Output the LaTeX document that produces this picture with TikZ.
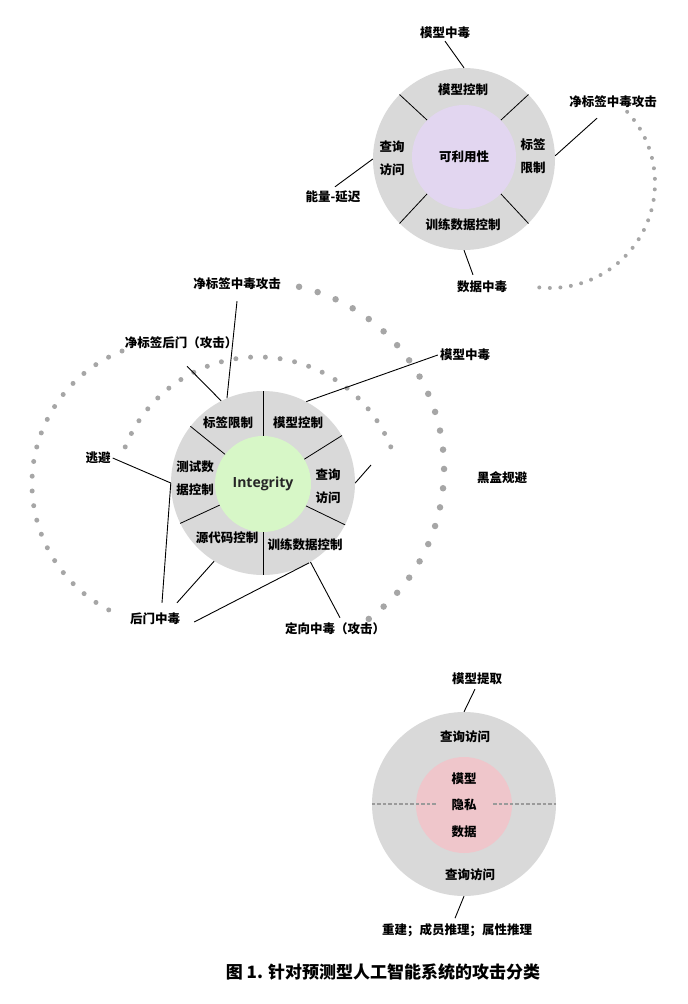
\documentclass[tikz,border=0pt]{standalone}
\usepackage{fontspec}
\setmainfont{Noto Sans CJK SC}
\newfontfamily\latinfont{Open Sans}
\definecolor{ringgray}{HTML}{D9D9D9}
\definecolor{dotgray}{HTML}{A6A6A6}
\definecolor{dashgray}{HTML}{9A9A9A}
\definecolor{availcol}{HTML}{E2D6F0}
\definecolor{integcol}{HTML}{D7F7C7}
\definecolor{privcol}{HTML}{EFC6CB}
\tikzset{
  lbl/.style={font=\bfseries\fontsize{12.5}{23}\selectfont, inner sep=2pt, align=center},
  ring/.style={circle, fill=ringgray, minimum size=#1, inner sep=0pt},
  core/.style={circle, minimum size=#1, inner sep=0pt},
  conn/.style={line width=0.9pt},
  divider/.style={line width=0.8pt},
  dotarc/.style={dotgray, line width=#1, line cap=round},
  dashline/.style={dashgray, line width=2.4pt, dash pattern=on 3.5pt off 2pt}
}
\begin{document}
\begin{tikzpicture}[x=1pt,y=-1pt]
    \useasboundingbox (0,0) rectangle (688,1004);
    % availability
    \node[ring=182pt] (avail) at (464,159) {};
    \node[core=104pt, fill=availcol, lbl] (availcore) at (464,157) {可利用性};
    \foreach \a in {45,135,225,315} {
        \draw[divider] (availcore.\a) -- (avail.\a);
    }
    \node[lbl] (amc) at (463,90) {模型控制};
    \node[lbl] (aqa) at (392,158) {查询\\访问};
    \node[lbl] (alr) at (533,156) {标签\\限制};
    \node[lbl] (atd) at (463,225) {训练数据控制};
    \node[lbl] (amp) at (445,33) {模型中毒};
    \node[lbl] (acl) at (613,102) {净标签中毒攻击};
    \node[lbl] (ael) at (333,197) {能量-延迟};
    \node[lbl] (adp) at (482,287) {数据中毒};
    \draw[conn] (amp.south) -- (avail.90);
    \draw[conn] ([xshift=-16pt,yshift=-8pt]acl.south) -- (avail.2);
    \draw[conn] ([xshift=2pt,yshift=2pt]ael.north) -- (avail.west);
    \draw[conn] ([xshift=-9pt,yshift=4pt]adp.north) -- (avail.south);
    \draw[dotarc=4pt, dash pattern=on 0pt off 10.58pt] (550,183) ++(-42.7:105) arc[start angle=-42.7, end angle=95.9, radius=105];
    % integrity
    \draw[dotarc=6.5pt, dash pattern=on 0pt off 19.33pt] (257,469) ++(-77:187) arc[start angle=-77, end angle=53.3, radius=187];
    \draw[dotarc=5pt, dash pattern=on 0pt off 14.8pt] (174.5,483.5) ++(-111.6:142.5) arc[start angle=-111.6, end angle=-248.4, radius=142.5];
    \draw[dotarc=5pt, dash pattern=on 0pt off 14.8pt] (258,500) ++(-158.2:143) arc[start angle=-158.2, end angle=-21.8, radius=143];
    \node[ring=184pt] (integ) at (263,483) {};
    \node[core=96pt, fill=integcol, font=\latinfont\bfseries\fontsize{14}{16}\selectfont, text=black!85] (integcore) at (263,484) {Integrity};
    \foreach \a in {90,31,333,270,206,142} {
        \draw[divider] (integcore.\a) -- (integ.\a);
    }
    \node[lbl] (ilr) at (228,423) {标签限制};
    \node[lbl] (imc) at (298,423) {模型控制};
    \node[lbl] (itd) at (195,478) {测试数\\据控制};
    \node[lbl] (iqa) at (328,486) {查询\\访问};
    \node[lbl] (isc) at (227,538) {源代码控制};
    \node[lbl] (itr) at (305,545) {训练数据控制};
    \node[lbl] (icl) at (237,284) {净标签中毒攻击};
    \node[lbl] (icb) at (181,343) {净标签后门（攻击）};
    \node[lbl] (imp) at (465,355) {模型中毒};
    \node[lbl] (iev) at (98,458) {逃避};
    \node[lbl] (ibb) at (502,478) {黑盒规避};
    \node[lbl] (ibd) at (155,619) {后门中毒};
    \node[lbl] (itp) at (335,629) {定向中毒（攻击）};
    \coordinate (ibbend) at (371,465);
    \draw[conn] ([yshift=-9pt]icl.south) -- (integ.113);
    \draw[conn] ([xshift=6pt,yshift=-15pt]icb.south) -- (integ.117);
    \draw[conn] (imp.west) -- (integ.62);
    \draw[conn] (iev.east) -- (integ.west);
    \draw[conn] ([xshift=7pt,yshift=8pt]ibd.north) -- (integ.west);
    \draw[conn] ([xshift=22pt,yshift=8pt]ibd.north) -- (integ.238);
    \draw[conn] ([xshift=12pt,yshift=-3pt]ibd.east) -- (integ.300);
    \draw[conn] ([xshift=5pt,yshift=3pt]itp.north) -- (integ.301);
    \draw[conn] (integ.east) -- (ibbend);
    % privacy
    \node[ring=184pt] (priv) at (464,804) {};
    \node[core=96pt, fill=privcol, lbl, font=\bfseries\fontsize{12.5}{26.5}\selectfont] (privcore) at (464,805) {模型\\隐私\\数据};
    \coordinate (pdl) at (437,804);
    \coordinate (pdr) at (493,804);
    \draw[dashline] (priv.west) -- (pdl);
    \draw[dashline] (pdr) -- (priv.east);
    \node[lbl] (pqt) at (465,737) {查询访问};
    \node[lbl] (pqb) at (470,875) {查询访问};
    \node[lbl] (pme) at (477,679) {模型提取};
    \node[lbl] (prc) at (457,930) {重建；成员推理；属性推理};
    \draw[conn] ([xshift=-2pt,yshift=-2pt]pme.south) -- (priv.north);
    \draw[conn] ([xshift=-2pt,yshift=3pt]prc.north) -- (priv.south);
    \node[font=\bfseries\fontsize{17}{20}\selectfont] (caption) at (383,972) {图 1. 针对预测型人工智能系统的攻击分类};
\end{tikzpicture}
\end{document}
